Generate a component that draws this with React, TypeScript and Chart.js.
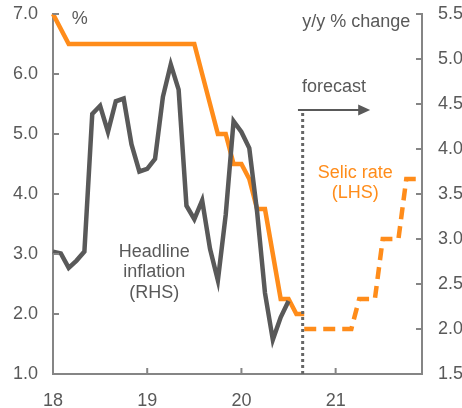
import { useEffect, useRef } from 'react';
import { Chart, registerables } from 'chart.js';

Chart.register(...registerables);

// ---- data ----
const yearLabels = ['18', '19', '20', '21'];
const yearTickMonths = [0, 12, 24, 36]; // months since Jan 2018

// Headline inflation, y/y %, Jan 2018 – Jul 2020 (RHS)
const inflation = [
  2.86, 2.84, 2.68, 2.76, 2.86, 4.39, 4.48, 4.19, 4.53, 4.56, 4.05, 3.75,
  3.78, 3.89, 4.58, 4.94, 4.66, 3.37, 3.22, 3.43, 2.89, 2.54, 3.27, 4.31,
  4.19, 4.01, 3.3, 2.4, 1.88, 2.13, 2.31,
];

// Selic rate, %, Jan 2018 – Sep 2020 (LHS)
const selic = [
  7.0, 6.75, 6.5, 6.5, 6.5, 6.5, 6.5, 6.5, 6.5, 6.5, 6.5, 6.5,
  6.5, 6.5, 6.5, 6.5, 6.5, 6.5, 6.5, 6.0, 5.5, 5.0, 5.0, 4.5,
  4.5, 4.25, 3.75, 3.75, 3.0, 2.25, 2.25, 2.0, 2.0,
];

// Selic forecast, Sep 2020 – Dec 2021 (LHS)
const forecastStart = 32;
const selicForecast = [
  1.75, 1.75, 1.75, 1.75, 1.75, 1.75, 1.75, 2.25, 2.25, 2.25,
  3.25, 3.25, 3.25, 4.25, 4.25, 4.25,
];

const leftTicks = { min: 1, max: 7, step: 1 };
const rightTicks = { min: 1.5, max: 5.5, step: 0.5 };

const FONT = "'Liberation Sans', Arial, sans-serif";
const TEXT = '#595959';
const ORANGE = '#FF8C1A';
const GRAY = '#595959';
const AXIS = '#858585';

const overlay = {
  id: 'overlay',
  afterDatasetsDraw(chart: any) {
    const { ctx, chartArea: ca, scales } = chart;
    const x = scales.x, y = scales.y, y1 = scales.y1;
    const px = (m: number) => x.getPixelForValue(m);
    const py = (v: number) => y.getPixelForValue(v);
    ctx.save();
    // inner tick marks
    ctx.strokeStyle = AXIS;
    ctx.lineWidth = 2;
    ctx.beginPath();
    y.ticks.forEach((t: any) => {
      const p = y.getPixelForValue(t.value);
      ctx.moveTo(ca.left, p); ctx.lineTo(ca.left + 6, p);
    });
    y1.ticks.forEach((t: any) => {
      const p = y1.getPixelForValue(t.value);
      ctx.moveTo(ca.right, p); ctx.lineTo(ca.right - 6, p);
    });
    x.ticks.forEach((t: any) => {
      const p = x.getPixelForValue(t.value);
      ctx.moveTo(p, ca.bottom); ctx.lineTo(p, ca.bottom - 6);
    });
    ctx.stroke();

    // forecast dotted line
    ctx.strokeStyle = '#666666';
    ctx.lineWidth = 3;
    ctx.setLineDash([3, 3]);
    ctx.beginPath();
    ctx.moveTo(px(31.8), py(5.35));
    ctx.lineTo(px(31.8), ca.bottom);
    ctx.stroke();
    ctx.setLineDash([]);

    // forecast arrow
    ctx.strokeStyle = GRAY;
    ctx.fillStyle = GRAY;
    ctx.lineWidth = 2;
    const ay = py(5.4);
    const ax0 = px(31.2), ax1 = px(40.4);
    ctx.beginPath();
    ctx.moveTo(ax0, ay); ctx.lineTo(ax1 - 10, ay);
    ctx.stroke();
    ctx.beginPath();
    ctx.moveTo(ax1, ay); ctx.lineTo(ax1 - 12, ay - 5.5); ctx.lineTo(ax1 - 12, ay + 5.5);
    ctx.closePath();
    ctx.fill();

    // texts
    ctx.font = `18px ${FONT}`;
    ctx.textBaseline = 'middle';
    ctx.fillStyle = TEXT;
    ctx.textAlign = 'left';
    ctx.fillText('%', px(2.4), py(6.92));
    ctx.textAlign = 'right';
    ctx.fillText('y/y % change', px(45.5), py(6.86));
    ctx.textAlign = 'center';
    ctx.fillText('forecast', px(35.8), py(5.79));
    ctx.fillText('Headline', px(12.9), py(3.03));
    ctx.fillText('inflation', px(12.9), py(2.7));
    ctx.fillText('(RHS)', px(12.9), py(2.35));
    ctx.fillStyle = ORANGE;
    ctx.fillText('Selic rate', px(38.5), py(4.35));
    ctx.fillText('(LHS)', px(38.5), py(4.02));
    ctx.restore();
  },
};

export default function App() {
  const ref = useRef<HTMLCanvasElement>(null);
  useEffect(() => {
    if (!ref.current) return;
    const tickFont = { family: FONT, size: 18 };
    const fitY = (w: number) => (s: any) => {
      s.width = w;
      s.paddingTop = 0;
      s.paddingBottom = 0;
    };
    const chart = new Chart(ref.current, {
      type: 'line',
      data: {
        datasets: [
          {
            label: 'Headline inflation (RHS)',
            data: inflation.map((v, i) => ({ x: i, y: v })),
            yAxisID: 'y1',
            borderColor: GRAY,
            borderWidth: 4.5,
            pointRadius: 0,
            clip: false as any,
          },
          {
            label: 'Selic rate (LHS)',
            data: selic.map((v, i) => ({ x: i, y: v })),
            yAxisID: 'y',
            borderColor: ORANGE,
            borderWidth: 4.5,
            pointRadius: 0,
            clip: false as any,
          },
          {
            label: 'Selic forecast',
            data: selicForecast.map((v, i) => ({ x: forecastStart + i, y: v })),
            yAxisID: 'y',
            borderColor: ORANGE,
            borderWidth: 4.5,
            borderDash: [12, 7],
            pointRadius: 0,
            clip: false as any,
          },
        ],
      },
      options: {
        animation: false,
        responsive: false,
        layout: { padding: { top: 14, left: 0, right: 0, bottom: 0 } },
        plugins: { legend: { display: false }, tooltip: { enabled: false } },
        scales: {
          x: {
            type: 'linear',
            min: 0,
            max: 47,
            afterBuildTicks: (s: any) => {
              s.ticks = yearTickMonths.map((v) => ({ value: v }));
            },
            afterFit: (s: any) => { s.height = 34; },
            ticks: {
              callback: (v: any) => yearLabels[yearTickMonths.indexOf(Number(v))] ?? '',
              font: tickFont,
              color: TEXT,
              padding: 16,
              maxRotation: 0,
              autoSkip: false,
            },
            grid: { display: false, drawTicks: false },
            border: { display: true, color: AXIS, width: 2 },
          },
          y: {
            position: 'left',
            min: leftTicks.min,
            max: leftTicks.max,
            afterFit: fitY(53),
            ticks: {
              stepSize: leftTicks.step,
              callback: (v: any) => Number(v).toFixed(1),
              font: tickFont,
              color: TEXT,
              padding: 15,
            },
            grid: { display: false, drawTicks: false },
            border: { display: true, color: AXIS, width: 2 },
          },
          y1: {
            position: 'right',
            min: rightTicks.min,
            max: rightTicks.max,
            afterFit: fitY(40),
            ticks: {
              stepSize: rightTicks.step,
              callback: (v: any) => Number(v).toFixed(1),
              font: tickFont,
              color: TEXT,
              padding: 16,
            },
            grid: { display: false, drawTicks: false },
            border: { display: true, color: AXIS, width: 2 },
          },
        },
      },
      plugins: [overlay],
    });
    return () => chart.destroy();
  }, []);
  return (
    <div style={{ position: 'absolute', left: 0, top: 0, width: 462, height: 408, background: '#fff' }}>
      <canvas ref={ref} width={462} height={408} style={{ display: 'block' }} />
    </div>
  );
}
